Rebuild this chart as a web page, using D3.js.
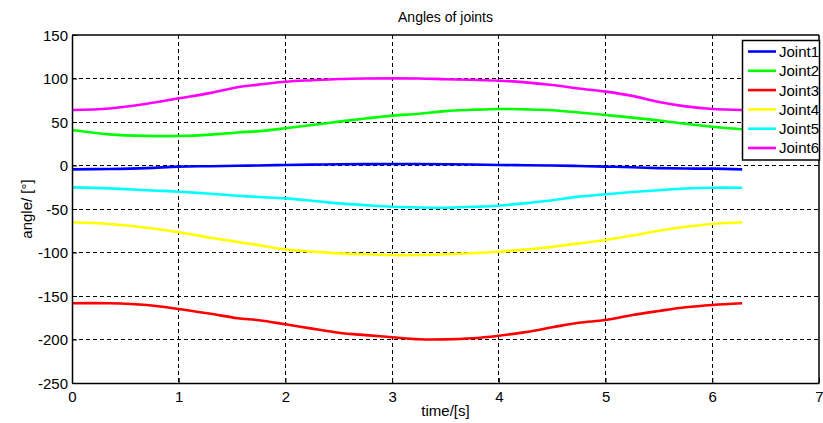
<!DOCTYPE html>
<html><head><meta charset="utf-8">
<script src="https://cdn.jsdelivr.net/npm/d3@7"></script>
<style>body{margin:0;background:#fff;} svg{display:block;font-family:Arial,"Liberation Sans",sans-serif;}</style>
</head><body>
<svg id="chart" width="823" height="423"></svg>
<script>
const time = [0, 0.35, 0.7, 1.0, 1.3, 1.55, 1.75, 2.0, 2.25, 2.5, 2.75, 3.0, 3.25, 3.5, 3.75, 4.0, 4.25, 4.5, 4.75, 5.0, 5.25, 5.5, 5.75, 6.0, 6.28];
const joint1 = [-4.4, -4, -3, -1.3, -0.8, -0.3, 0, 0.6, 1, 1.4, 1.6, 1.7, 1.7, 1.5, 1.2, 0.6, 0.3, 0, -0.6, -1.3, -2, -3, -3.5, -3.6, -4.4];
const joint2 = [40.8, 35.8, 34, 33.9, 35.5, 38, 39.5, 42.8, 46.5, 50.4, 54, 57.3, 59.5, 62.5, 64, 65, 64.5, 63.5, 61, 58, 55, 51.8, 48, 44.6, 41.6];
const joint3 = [-158.4, -158.4, -160.3, -164.9, -170.5, -175.5, -177.8, -182.5, -187.5, -192.2, -195, -197.4, -199.7, -199.8, -198.6, -195.6, -191.5, -186, -180.7, -177.6, -171.8, -167.2, -163, -160.3, -158.4];
const joint4 = [-65.3, -67.2, -71.5, -76.8, -83, -87.8, -91.5, -96.4, -99, -101, -102, -102.9, -102.8, -102, -100.8, -99.1, -96.5, -93.5, -89.5, -85.6, -80.5, -75, -70.5, -67.2, -65.3];
const joint5 = [-25.1, -26.3, -28.4, -30.1, -32.5, -34.8, -36.2, -37.8, -40.5, -43.5, -45.6, -47.4, -48.2, -48.5, -47.5, -46.2, -43.2, -40, -35.8, -33.1, -30.5, -28.4, -26.5, -25.5, -25.5];
const joint6 = [63.8, 65.6, 71, 77.2, 83.5, 90, 93, 96.3, 98, 99.4, 100, 100.2, 100, 99.2, 98.5, 97.5, 95.5, 92.5, 88.5, 84.9, 80, 73, 68, 64.9, 63.8];
const seriesNames = ["Joint1", "Joint2", "Joint3", "Joint4", "Joint5", "Joint6"];
const seriesColors = ["#0000ff", "#00ff00", "#ff0000", "#ffff00", "#00ffff", "#ff00ff"];
const xTicks = [0, 1, 2, 3, 4, 5, 6, 7];
const yTicks = [-250, -200, -150, -100, -50, 0, 50, 100, 150];
const titleText = "Angles of joints";
const xLabel = "time/[s]";
const yLabel = "angle/ [°]";

const series = [joint1, joint2, joint3, joint4, joint5, joint6];
const svg = d3.select("#chart");
const m = {left: 72, top: 35, right: 819, bottom: 383};
const x = d3.scaleLinear().domain([0, 7]).range([m.left, m.right]);
const y = d3.scaleLinear().domain([-250, 150]).range([m.bottom, m.top]);

// grid
const g = svg.append("g");
g.selectAll(".vg").data(xTicks.slice(1, -1)).join("line")
  .attr("x1", d => x(d)).attr("x2", d => x(d)).attr("y1", m.top).attr("y2", m.bottom)
  .attr("stroke", "#000").attr("stroke-width", 1).attr("stroke-dasharray", "4,3").attr("shape-rendering","crispEdges");
g.selectAll(".hg").data(yTicks.slice(1, -1)).join("line")
  .attr("y1", d => y(d)).attr("y2", d => y(d)).attr("x1", m.left).attr("x2", m.right)
  .attr("stroke", "#000").attr("stroke-width", 1).attr("stroke-dasharray", "4,3").attr("shape-rendering","crispEdges");

// lines
const line = d3.line().x((d, i) => x(time[i])).y(d => y(d)).curve(d3.curveCatmullRom.alpha(0.5));
series.forEach((s, k) => {
  svg.append("path").datum(s).attr("d", line).attr("fill", "none")
    .attr("stroke", seriesColors[k]).attr("stroke-width", 2.6);
});

// axes
const fmt = d => String(d);
const xAxis = d3.axisBottom(x).tickValues(xTicks).tickFormat(fmt).tickSizeInner(-5).tickSizeOuter(0).tickPadding(8);
const yAxis = d3.axisLeft(y).tickValues(yTicks).tickFormat(fmt).tickSizeInner(-5).tickSizeOuter(0).tickPadding(4);
const xa = svg.append("g").attr("transform", `translate(0,${m.bottom})`).call(xAxis);
const ya = svg.append("g").attr("transform", `translate(${m.left},0)`).call(yAxis);
[xa, ya].forEach(a => {
  a.selectAll("text").attr("font-size", 15).attr("fill", "#000").attr("font-family", "Arial, 'Liberation Sans', sans-serif");
  a.selectAll("line").attr("stroke", "#000");
  a.select(".domain").attr("stroke", "#000").attr("stroke-width", 1.5);
});
ya.selectAll("text").attr("dy", "0.36em");
// top & right border
svg.append("line").attr("x1", m.left).attr("x2", m.right).attr("y1", m.top).attr("y2", m.top).attr("stroke", "#000").attr("stroke-width", 1.5);
svg.append("line").attr("x1", m.right).attr("x2", m.right).attr("y1", m.top).attr("y2", m.bottom).attr("stroke", "#000").attr("stroke-width", 1.5);

// labels
svg.append("text").attr("x", (m.left + m.right) / 2).attr("y", 22).attr("text-anchor", "middle")
  .attr("font-size", 14).text(titleText);
svg.append("text").attr("x", (m.left + m.right) / 2).attr("y", 416).attr("text-anchor", "middle")
  .attr("font-size", 15).text(xLabel);
svg.append("text").attr("transform", `translate(32,${(m.top + m.bottom) / 2}) rotate(-90)`).attr("text-anchor", "middle")
  .attr("font-size", 15).text(yLabel);

// legend
const lg = svg.append("g");
lg.append("rect").attr("x", 742.5).attr("y", 40.5).attr("width", 77).attr("height", 119.5)
  .attr("fill", "#fff").attr("stroke", "#000").attr("stroke-width", 1.5);
seriesNames.forEach((n, k) => {
  const yy = 51.5 + k * 19.3;
  lg.append("line").attr("x1", 748).attr("x2", 776).attr("y1", yy).attr("y2", yy)
    .attr("stroke", seriesColors[k]).attr("stroke-width", 2.6);
  lg.append("text").attr("x", 779).attr("y", yy).attr("dy", "0.36em").attr("font-size", 15).text(n);
});
</script>
</body></html>
